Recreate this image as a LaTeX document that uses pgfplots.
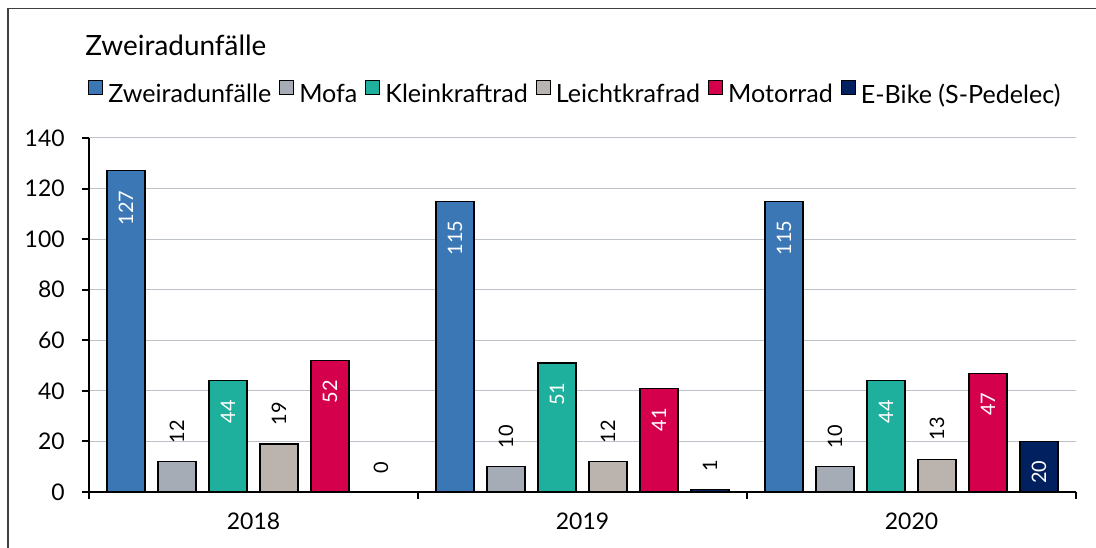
\documentclass[border=0pt]{standalone}
\usepackage{fontspec}
\setmainfont{Lato}
\usepackage{pgfplots}
\pgfplotsset{compat=1.18}
\definecolor{cZ}{HTML}{3B77B5}
\definecolor{cM}{HTML}{A5ACB5}
\definecolor{cK}{HTML}{1EB09C}
\definecolor{cL}{HTML}{BBB3AD}
\definecolor{cR}{HTML}{D5004C}
\definecolor{cE}{HTML}{002060}
\definecolor{gridc}{HTML}{BEC3CA}
\definecolor{framec}{HTML}{404040}
\pgfplotsset{
  inlab/.style={nodes near coords, every node near coord/.append style={font=\fontsize{10}{12}\selectfont, color=white, yshift=-9.5bp, rotate=90, anchor=east, inner sep=0pt}},
  outlab/.style={nodes near coords, every node near coord/.append style={font=\fontsize{10}{12}\selectfont, color=black, yshift=9bp, rotate=90, anchor=west, inner sep=0pt}},
  mybar/.style={ybar, bar width=19bp, draw=black, line width=0.6bp},
}
\begin{document}
\begin{tikzpicture}
\useasboundingbox (0bp,0bp) rectangle (548bp,274bp);
\fill[white] (0bp,0bp) rectangle (548bp,274bp);
\draw[line width=0.9bp, color=framec] (4bp,0bp) -- (4bp,269.75bp) -- (548bp,269.75bp);
\node[anchor=west, inner sep=0pt, font=\fontsize{14}{16}\selectfont] at (42.5bp,251.5bp) {Zweiradunfälle};
\begin{axis}[
  at={(44.5bp,28bp)}, anchor=south west, scale only axis,
  width=493.5bp, height=177bp,
  ymin=0, ymax=140, ytick={0,20,...,140},
  xmin=-0.5, xmax=2.5,
  xtick={-0.5,0.5,1.5,2.5}, xticklabels={2018,2019,2020},
  x tick label as interval,
  axis x line*=bottom, axis y line*=left,
  axis line style={line width=1bp, black},
  tick style={line width=1bp, black},
  major tick length=3.5bp, tick align=outside,
  ymajorgrids, grid style={color=gridc, line width=0.5bp},
  /pgf/number format/assume math mode=true,
  ticklabel style={font=\fontsize{11.5}{13}\selectfont},
  yticklabel style={inner sep=0pt, anchor=east, xshift=-8.5bp},
  xticklabel style={inner sep=0pt, anchor=north, yshift=-6.5bp},
  ybar, clip=false,
  legend columns=6,
  legend style={at={(-0.001,1.1271)}, anchor=west, draw=none, fill=none, inner sep=0pt,
    font=\fontsize{12.6}{14}\selectfont,
    nodes={inner sep=0pt},
    /tikz/every odd column/.append style={column sep=2.5bp},
    /tikz/every even column/.append style={column sep=4bp}},
  legend image code/.code={\draw[#1, line width=0.5bp, draw=black] (0bp,0.3bp) rectangle (7bp,7.3bp);},
]
\addplot[mybar, fill=cZ, bar shift=-63.75bp, inlab] coordinates {(0,127) (1,115) (2,115)};
\addplot[mybar, fill=cM, bar shift=-38.25bp, outlab] coordinates {(0,12) (1,10) (2,10)};
\addplot[mybar, fill=cK, bar shift=-12.75bp, inlab] coordinates {(0,44) (1,51) (2,44)};
\addplot[mybar, fill=cL, bar shift=12.75bp, outlab] coordinates {(0,19) (1,12) (2,13)};
\addplot[mybar, fill=cR, bar shift=38.25bp, inlab] coordinates {(0,52) (1,41) (2,47)};
\addplot[mybar, fill=cE, bar shift=63.75bp] coordinates {(0,0) (1,1) (2,20)};
\addplot[ybar, bar width=19bp, bar shift=63.75bp, draw=none, fill=none, forget plot, outlab] coordinates {(0,0) (1,1)};
\addplot[ybar, bar width=19bp, bar shift=63.75bp, draw=none, fill=none, forget plot, inlab] coordinates {(2,20)};
\legend{Zweiradunfälle, Mofa, Kleinkraftrad, Leichtkrafrad, Motorrad, E-Bike (S-Pedelec)}
\end{axis}
\end{tikzpicture}
\end{document}
